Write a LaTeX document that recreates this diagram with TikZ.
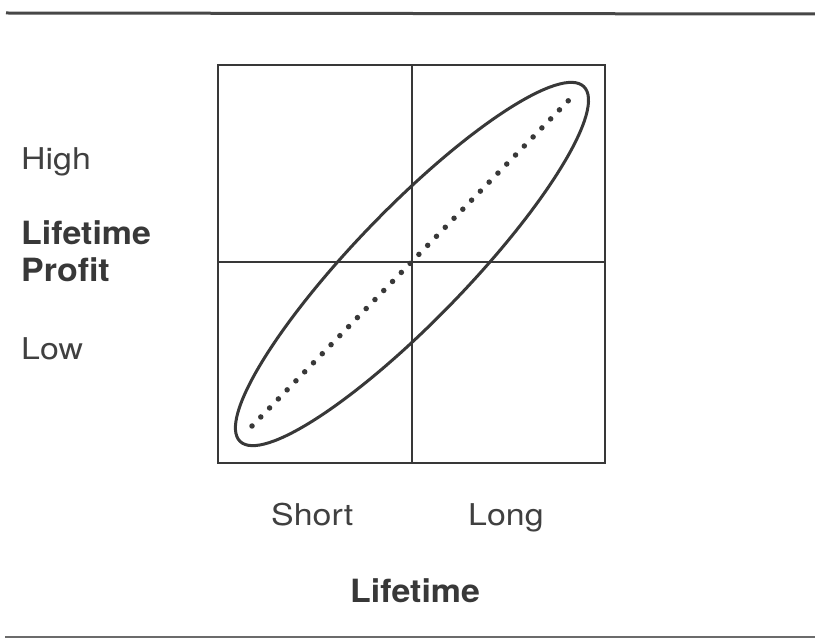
\documentclass[tikz,border=0pt]{standalone}
\usepackage{fontspec}
\setmainfont{TeX Gyre Heros}
\begin{document}
\begin{tikzpicture}[x=1pt,y=-1pt,
  ink/.style={draw=black!78},
  lbl/.style={anchor=base west,inner sep=0pt,text=black!75,font=\fontsize{30}{36}\selectfont,xscale=1.13},
  blbl/.style={anchor=base west,inner sep=0pt,text=black!78,font=\fontsize{32}{38}\selectfont\bfseries,xscale=1.06}]
\useasboundingbox (0,0) rectangle (815,639);
% rules
\draw[black!72,line width=3pt] (6,13) -- (815,14);
\draw[black!58,line width=2.4pt] (5,637) -- (815,637);
% box
\draw[ink,line width=2.3pt] (218,65) rectangle (605,463);
\draw[ink,line width=2pt] (412,65) -- (412,463);
\draw[ink,line width=2pt] (218,262) -- (605,262);
% ellipse
\coordinate (c) at (412,264);
\draw[ink,line width=3pt,rotate around={45.9:(c)}] (c) ellipse [x radius=247pt, y radius=56pt];
% dotted diagonal
\coordinate (d1) at (252,426);
\coordinate (d2) at (570,99);
\draw[black!78,line width=5.5pt,line cap=round,dash pattern=on 0pt off 12.6pt] (d1) -- (d2);
% labels
\node[lbl] (high) at (21,170) {High};
\node[blbl] (lt) at (21,245) {Lifetime};
\node[blbl] (pr) at (21,282) {Profit};
\node[lbl] (low) at (21,360) {Low};
\node[lbl] (short) at (271,525) {Short};
\node[lbl] (long) at (468,525) {Long};
\node[blbl] (lx) at (350,602) {Lifetime};
\end{tikzpicture}
\end{document}
